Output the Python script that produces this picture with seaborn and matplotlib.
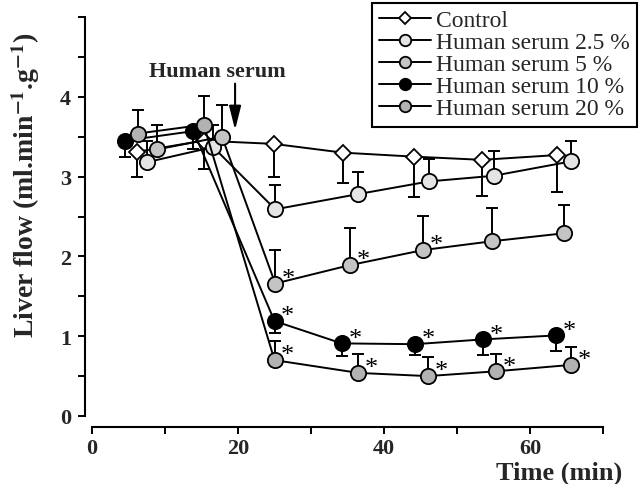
import numpy as np
import pandas as pd
import matplotlib
matplotlib.use("Agg")
import matplotlib.pyplot as plt
import seaborn as sns

# time (min), liver flow (ml/min/g), one-sided SEM, asterisk flags
time_control = [6.1, 15.3, 24.9, 34.4, 44.1, 53.4, 63.7]
flow_control = [3.31, 3.45, 3.41, 3.30, 3.25, 3.21, 3.27]
err_control = [0.32, 0.36, 0.41, 0.38, 0.50, 0.45, 0.46]

time_hs25 = [7.5, 16.6, 25.1, 36.4, 46.2, 55.0, 65.6]
flow_hs25 = [3.18, 3.37, 2.59, 2.78, 2.94, 3.01, 3.19]
err_hs25 = [0.26, 0.28, 0.30, 0.28, 0.28, 0.31, 0.26]

time_hs5 = [8.9, 17.8, 25.1, 35.3, 45.4, 54.8, 64.7]
flow_hs5 = [3.34, 3.50, 1.66, 1.89, 2.08, 2.19, 2.29]
err_hs5 = [0.31, 0.40, 0.42, 0.46, 0.43, 0.42, 0.36]
star_hs5 = [0, 0, 1, 1, 1, 0, 0]

time_hs10 = [4.5, 13.9, 25.0, 34.2, 44.2, 53.6, 63.6]
flow_hs10 = [3.45, 3.57, 1.19, 0.91, 0.90, 0.96, 1.01]
err_hs10 = [0.20, 0.22, 0.15, 0.16, 0.14, 0.20, 0.20]
star_hs10 = [0, 0, 1, 1, 1, 1, 1]

time_hs20 = [6.3, 15.3, 25.0, 36.5, 46.0, 55.3, 65.6]
flow_hs20 = [3.54, 3.65, 0.70, 0.54, 0.50, 0.56, 0.64]
err_hs20 = [0.30, 0.36, 0.24, 0.24, 0.24, 0.22, 0.22]
star_hs20 = [0, 0, 1, 1, 1, 1, 1]

no_star = [0] * 7

sns.set_theme(style="ticks")
plt.rcParams["font.family"] = ["Liberation Serif", "DejaVu Serif"]
plt.rcParams["mathtext.fontset"] = "stix"

fig, ax = plt.subplots(figsize=(6.4, 4.85), dpi=100)
fig.subplots_adjust(left=92/640, right=603/640, bottom=68/485, top=467/485)

# label, t, flow, err, direction (-1 down / +1 up), marker, face, size, stars
series = [
    ("Control", time_control, flow_control, err_control, -1, "D", "white", 8, no_star),
    ("Human serum 2.5 %", time_hs25, flow_hs25, err_hs25, 1, "o", "#e4e4e4", 11, no_star),
    ("Human serum 5 %", time_hs5, flow_hs5, err_hs5, 1, "o", "#c4c4c4", 11, star_hs5),
    ("Human serum 10 %", time_hs10, flow_hs10, err_hs10, -1, "o", "black", 11, star_hs10),
    ("Human serum 20 %", time_hs20, flow_hs20, err_hs20, 1, "o", "#b2b2b2", 11, star_hs20),
]

for i, (label, t, f, e, side, mk, face, ms, stars) in enumerate(series):
    e = np.array(e)
    zero = np.zeros_like(e)
    yerr = [e, zero] if side < 0 else [zero, e]
    ax.errorbar(t, f, yerr=yerr, fmt="none", ecolor="black",
                elinewidth=1.4, capsize=4.5, capthick=1.4, zorder=2)
    df = pd.DataFrame({"time": t, "flow": f})
    sns.lineplot(data=df, x="time", y="flow", ax=ax, estimator=None,
                 color="black", lw=1.4, marker=mk, markersize=ms,
                 markerfacecolor=face, markeredgecolor="black",
                 markeredgewidth=1.3, label=label, zorder=3 + i)
    for tx, fy, s in zip(t, f, stars):
        if s:
            ax.text(tx + 0.9, fy + 0.06, "*", fontsize=19, ha="left",
                    va="center", color="black")

ax.set_xlim(0, 70)
ax.set_ylim(0, 5)
ax.set_xticks([0, 20, 40, 60])
ax.set_xticks([10, 30, 50, 70], minor=True)
ax.set_yticks([0, 1, 2, 3, 4])
ax.set_yticks([0.5, 1.5, 2.5, 3.5, 4.5, 5.0], minor=True)

sns.despine(ax=ax)
ax.spines["left"].set_position(("outward", 5))
ax.spines["bottom"].set_position(("outward", 8))
for sp in ["left", "bottom"]:
    ax.spines[sp].set_linewidth(1.5)
    ax.spines[sp].set_color("black")

ax.tick_params(which="both", direction="out", length=5, width=1.4,
               color="black")
ax.tick_params(axis="x", pad=3, labelsize=16)
ax.tick_params(axis="y", pad=5, labelsize=16)
for lab in ax.get_xticklabels() + ax.get_yticklabels():
    lab.set_fontweight("bold")

ax.set_xlabel("Time (min)", fontsize=19, fontweight="bold", loc="right")
ax.xaxis.set_label_coords(1.037, -0.112)
ax.set_ylabel(r"Liver flow (ml.min$^{\mathbf{-1}}$.g$^{\mathbf{-1}}$)",
              fontsize=20, fontweight="bold")
ax.yaxis.set_label_coords(-0.098, 0.58)

ax.text(17.2, 4.2, "Human serum", fontsize=16, fontweight="bold",
        ha="center", va="bottom")
ax.annotate("", xy=(19.6, 3.55), xytext=(19.6, 4.2),
            arrowprops=dict(arrowstyle="-|>,head_length=1.2,head_width=0.3",
                            lw=1.5, color="black"))

leg = ax.legend(loc="upper right", bbox_to_anchor=(0.995, 0.992),
                bbox_transform=fig.transFigure, frameon=True, fancybox=False,
                edgecolor="black", framealpha=1, fontsize=17,
                labelspacing=0.02, handlelength=2.2, handletextpad=0.2,
                borderpad=0.3, borderaxespad=0, markerscale=0.75)
leg.get_frame().set_linewidth(1.5)

fig.savefig("out.png", dpi=100)
